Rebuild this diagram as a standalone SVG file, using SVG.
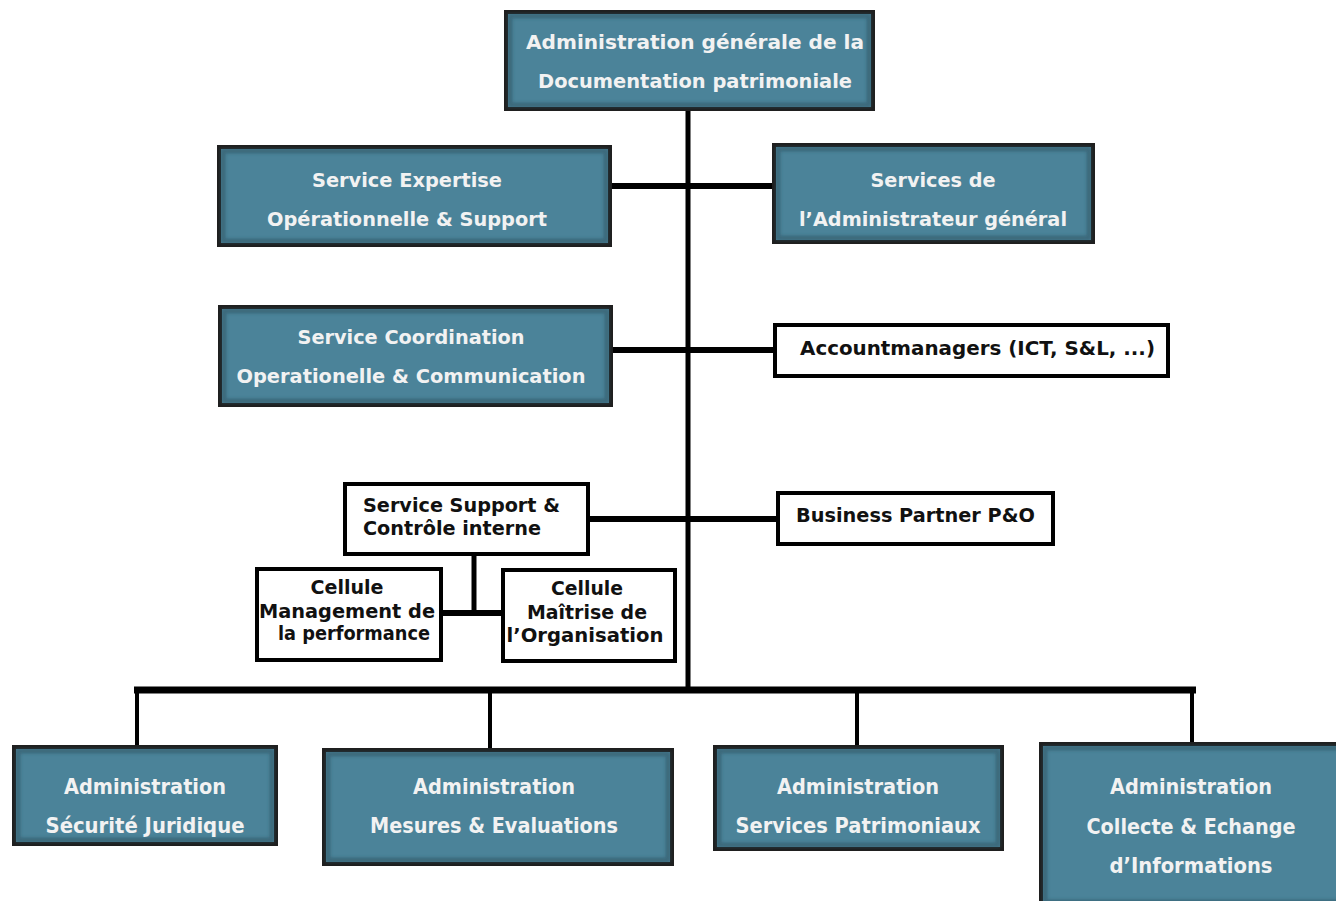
<svg xmlns="http://www.w3.org/2000/svg" width="1336" height="901" viewBox="0 0 1336 901">
<defs>
<filter id="soft" x="-5%" y="-5%" width="110%" height="110%"><feGaussianBlur stdDeviation="1.5"/></filter>
</defs>
<style>
.tb{fill:#4b8399;stroke:#1f1f1f;stroke-width:4}
.bev{fill:none;stroke:#2a4e5e;stroke-opacity:0.5;stroke-width:5;filter:url(#soft)}
.wb{fill:#ffffff;stroke:#000;stroke-width:4}
.tt{font-family:"DejaVu Sans","Liberation Sans",sans-serif;font-weight:bold;font-size:19px;fill:#f2f2f2;text-anchor:middle}
.bt{font-family:"DejaVu Sans Condensed","DejaVu Sans","Liberation Sans",sans-serif;font-weight:bold;font-size:21px;fill:#f2f2f2;text-anchor:middle}
.wt{font-family:"DejaVu Sans","Liberation Sans",sans-serif;font-weight:bold;font-size:19px;fill:#111;text-anchor:middle}
.wl{font-family:"DejaVu Sans","Liberation Sans",sans-serif;font-weight:bold;font-size:19px;fill:#111;text-anchor:start}
.c{stroke:#000;fill:none}
</style>
<rect width="1336" height="901" fill="#fff"/>
<g id="connectors">
<line class="c" x1="688" y1="110" x2="688" y2="690" stroke-width="5"/>
<line class="c" x1="611" y1="186" x2="772" y2="186" stroke-width="6"/>
<line class="c" x1="613" y1="350" x2="773" y2="350" stroke-width="6"/>
<line class="c" x1="590" y1="519" x2="776" y2="519" stroke-width="6"/>
<line class="c" x1="474" y1="556" x2="474" y2="613" stroke-width="5"/>
<line class="c" x1="443" y1="613" x2="501" y2="613" stroke-width="6"/>
<line class="c" x1="134" y1="690" x2="1196" y2="690" stroke-width="7"/>
<line class="c" x1="137" y1="690" x2="137" y2="745" stroke-width="4"/>
<line class="c" x1="490" y1="690" x2="490" y2="748" stroke-width="4"/>
<line class="c" x1="857" y1="690" x2="857" y2="745" stroke-width="4"/>
<line class="c" x1="1192" y1="690" x2="1192" y2="742" stroke-width="4"/>
</g>
<g id="n-top">
<rect class="tb" x="506" y="12" width="367" height="97"/>
<rect class="bev" x="510" y="16" width="359" height="89"/>
<text class="tt" x="695" y="49" textLength="338" lengthAdjust="spacingAndGlyphs">Administration générale de la</text>
<text class="tt" x="695" y="88" textLength="314" lengthAdjust="spacingAndGlyphs">Documentation patrimoniale</text>
</g>
<g id="n-expertise">
<rect class="tb" x="219" y="147" width="391" height="98"/>
<rect class="bev" x="223" y="151" width="383" height="90"/>
<text class="tt" x="407" y="187" textLength="190" lengthAdjust="spacingAndGlyphs">Service Expertise</text>
<text class="tt" x="407" y="226" textLength="280" lengthAdjust="spacingAndGlyphs">Opérationnelle &amp; Support</text>
</g>
<g id="n-adminserv">
<rect class="tb" x="774" y="145" width="319" height="97"/>
<rect class="bev" x="778" y="149" width="311" height="89"/>
<text class="tt" x="933" y="187" textLength="125" lengthAdjust="spacingAndGlyphs">Services de</text>
<text class="tt" x="933" y="226" textLength="268" lengthAdjust="spacingAndGlyphs">l’Administrateur général</text>
</g>
<g id="n-coordination">
<rect class="tb" x="220" y="307" width="391" height="98"/>
<rect class="bev" x="224" y="311" width="383" height="90"/>
<text class="tt" x="411" y="344" textLength="227" lengthAdjust="spacingAndGlyphs">Service Coordination</text>
<text class="tt" x="411" y="383" textLength="349" lengthAdjust="spacingAndGlyphs">Operationelle &amp; Communication</text>
</g>
<g id="n-account">
<rect class="wb" x="775" y="325" width="393" height="51"/>
<text class="wl" x="800" y="355" textLength="355" lengthAdjust="spacingAndGlyphs">Accountmanagers (ICT, S&amp;L, ...)</text>
</g>
<g id="n-business">
<rect class="wb" x="778" y="493" width="275" height="51"/>
<text class="wl" x="796" y="522" textLength="239" lengthAdjust="spacingAndGlyphs">Business Partner P&amp;O</text>
</g>
<g id="n-support">
<rect class="wb" x="345" y="484" width="243" height="70"/>
<text class="wl" x="363" y="512" textLength="197" lengthAdjust="spacingAndGlyphs">Service Support &amp;</text>
<text class="wl" x="363" y="535" textLength="178" lengthAdjust="spacingAndGlyphs">Contrôle interne</text>
</g>
<g id="n-cell-mgmt">
<rect class="wb" x="257" y="569" width="184" height="91"/>
<text class="wt" x="347" y="594" textLength="73" lengthAdjust="spacingAndGlyphs">Cellule</text>
<text class="wt" x="347" y="618" textLength="176" lengthAdjust="spacingAndGlyphs">Management de</text>
<text class="wt" x="354" y="640" textLength="152" lengthAdjust="spacingAndGlyphs">la performance</text>
</g>
<g id="n-cell-org">
<rect class="wb" x="503" y="570" width="172" height="91"/>
<text class="wt" x="587" y="595" textLength="72" lengthAdjust="spacingAndGlyphs">Cellule</text>
<text class="wt" x="587" y="619" textLength="120" lengthAdjust="spacingAndGlyphs">Maîtrise de</text>
<text class="wt" x="585" y="642" textLength="157" lengthAdjust="spacingAndGlyphs">l’Organisation</text>
</g>
<g id="n-securite">
<rect class="tb" x="14" y="747" width="262" height="97"/>
<rect class="bev" x="18" y="751" width="254" height="89"/>
<text class="bt" x="145" y="794" textLength="162" lengthAdjust="spacingAndGlyphs">Administration</text>
<text class="bt" x="145" y="833" textLength="199" lengthAdjust="spacingAndGlyphs">Sécurité Juridique</text>
</g>
<g id="n-mesures">
<rect class="tb" x="324" y="750" width="348" height="114"/>
<rect class="bev" x="328" y="754" width="340" height="106"/>
<text class="bt" x="494" y="794" textLength="162" lengthAdjust="spacingAndGlyphs">Administration</text>
<text class="bt" x="494" y="833" textLength="248" lengthAdjust="spacingAndGlyphs">Mesures &amp; Evaluations</text>
</g>
<g id="n-patrimoniaux">
<rect class="tb" x="715" y="747" width="287" height="102"/>
<rect class="bev" x="719" y="751" width="279" height="94"/>
<text class="bt" x="858" y="794" textLength="162" lengthAdjust="spacingAndGlyphs">Administration</text>
<text class="bt" x="858" y="833" textLength="245" lengthAdjust="spacingAndGlyphs">Services Patrimoniaux</text>
</g>
<g id="n-collecte">
<rect class="tb" x="1041" y="744" width="300" height="162"/>
<rect class="bev" x="1045" y="748" width="300" height="154"/>
<text class="bt" x="1191" y="794" textLength="162" lengthAdjust="spacingAndGlyphs">Administration</text>
<text class="bt" x="1191" y="834" textLength="209" lengthAdjust="spacingAndGlyphs">Collecte &amp; Echange</text>
<text class="bt" x="1191" y="873" textLength="163" lengthAdjust="spacingAndGlyphs">d’Informations</text>
</g>
</svg>
